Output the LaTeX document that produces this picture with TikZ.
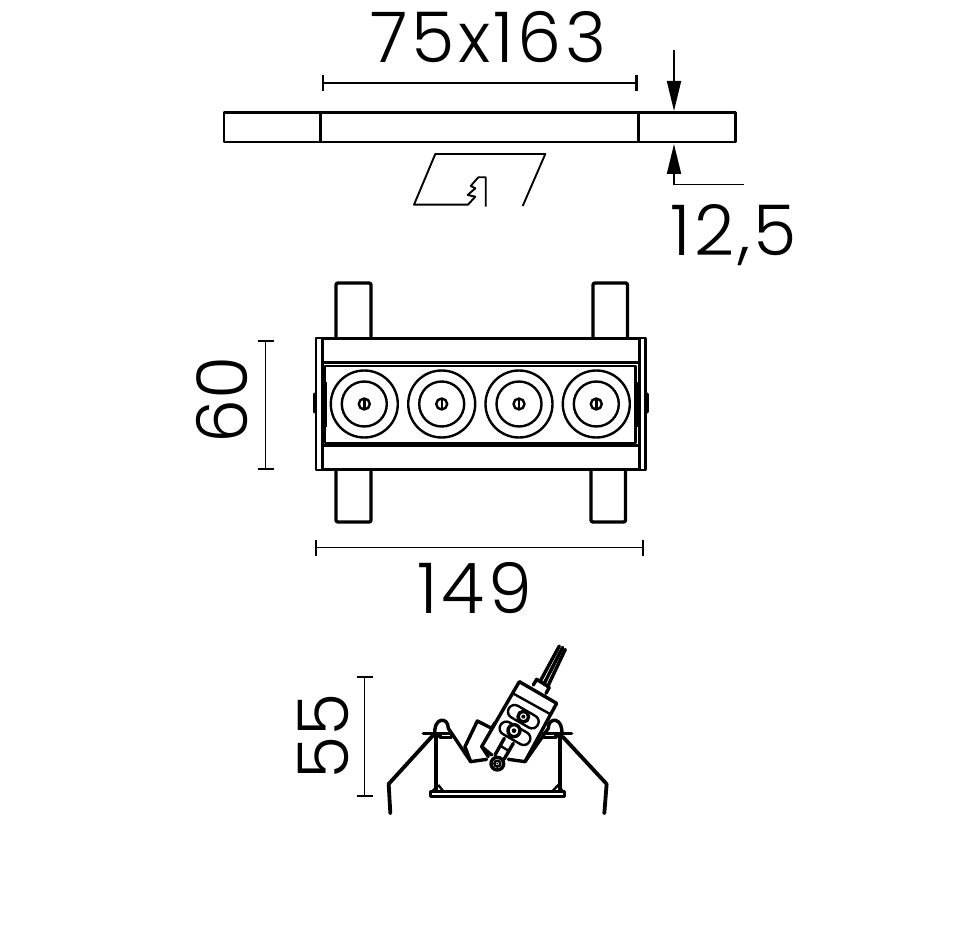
\documentclass[tikz,border=0pt]{standalone}
\usepackage{fontspec}
\setmainfont[LetterSpace=5]{Poppins Light}
\newfontfamily\tightfont{Poppins Light}
\usetikzlibrary{arrows.meta}
\newcommand{\dimarw}{{Bar[width=16pt,line width=2.4pt]}-{Bar[width=16pt,line width=2.4pt]}}
\newcommand{\arw}{-{Triangle[length=30pt,width=14pt]}}
\tikzset{
  dimtext/.style={inner sep=0pt,font=\fontsize{70}{70}\selectfont},
  sidetext/.style={inner sep=0pt,rotate=90,font=\tightfont\fontsize{70}{70}\selectfont},
  dimline/.style={line width=1.9pt},
  part/.style={line width=2.4pt,line join=round},
  heavy/.style={line width=3.4pt,line join=round,line cap=round},
}
\begin{document}
\begin{tikzpicture}[x=1pt,y=-1pt]
\useasboundingbox (0,0) rectangle (961,949);
%top view, ceiling cut
\draw[part] (224,112.5) rectangle (735.5,142);
\draw[part] (320.5,112.5) -- (320.5,142);
\draw[part] (638.5,112.5) -- (638.5,142);
\draw[part,line width=1.9pt] (485.7,206.7) -- (485.7,177.3) -- (478.3,177.3) -- (470.7,186) -- (475.3,188.3)
  -- (467.7,195) -- (475.3,196.7) -- (468,204.7) -- (414,204.7) -- (435.3,154) -- (545.3,154) -- (522.7,206);
\coordinate (cutL) at (321.5,83);
\coordinate (cutR) at (637.5,83);
\draw[dimline,\dimarw] (cutL) -- (cutR);
\node[dimtext] (cutText) at (488.5,37) {75x163};
\coordinate (thickTopA) at (674,50);
\coordinate (thickTopB) at (674,111);
\coordinate (thickLowA) at (744,184.5);
\coordinate (thickLowB) at (674,144);
\draw[dimline,\arw] (thickTopA) -- (thickTopB);
\draw[dimline,\arw] (thickLowA) -| (thickLowB);
\node[dimtext] (thickText) at (734,235) {12,5};
%front view
\foreach \xa/\xb/\ya/\yb in {336/371/338/283, 593/627.5/338/283, 336/371/470/522, 591/625.5/470/522}
  \draw[heavy,rounded corners=2pt] (\xa,\ya) -- (\xa,\yb) -- (\xb,\yb) -- (\xb,\ya);
\draw[part] (316,338) rectangle (645.5,470);
\draw[heavy] (322,338.5) -- (639,338.5);
\draw[heavy] (322,469.5) -- (639,469.5);
\draw[line width=3pt] (322,338) -- (322,470);
\draw[line width=3pt] (639,338) -- (639,470);
\draw[part] (322,362.5) -- (639,362.5);
\draw[part] (325,366) rectangle (635.5,443);
\draw[part] (322,445.5) -- (639,445.5);
\draw[line width=5pt] (324,382) -- (324,427);
\draw[line width=5pt] (637,382) -- (637,427);
\draw[line width=3pt,line cap=round] (314.5,394) -- (314.5,412);
\draw[line width=3pt,line cap=round] (647,394) -- (647,412);
\foreach \cx in {364.3,441.7,519,596.3} {
  \draw[part] (\cx,404) circle (33.5);
  \draw[part] (\cx,404) circle (22.5);
  \draw[part] (\cx,404) circle (5.5);
  \draw[part] (\cx,398.5) -- (\cx,409.5);
}
\coordinate (heightT) at (265.5,340);
\coordinate (heightB) at (265.5,470);
\draw[dimline,\dimarw] (heightT) -- (heightB);
\node[sidetext] (heightText) at (222,400) {60};
\coordinate (widthL) at (314.5,547.5);
\coordinate (widthR) at (644,547.5);
\draw[dimline,\dimarw] (widthL) -- (widthR);
\node[dimtext] (widthText) at (475,588) {149};
%side view
\coordinate (depthT) at (364.5,676);
\coordinate (depthB) at (364.5,797);
\draw[dimline,\dimarw] (depthT) -- (depthB);
\node[sidetext] (depthText) at (323,736) {55};
\begin{scope}[shift={(380,640)},x=.3333pt,y=-.3333pt]
%springs
\draw[heavy,line width=3.8pt] (31,520) -- (26,432) -- (160,285);
\draw[heavy,line width=3.8pt] (673,520) -- (680,432) -- (548,290);
\draw[heavy] (130,280) -- (190,280);
\draw[heavy] (515,280) -- (575,280);
%housing
\draw[heavy] (168,285) -- (168,452);
\draw[heavy] (540,285) -- (540,452);
\draw[part] (152,454) rectangle (553,470);
\draw[part] (175,435) -- (157,454) (175,435) -- (190,454);
\draw[part] (535,435) -- (517,454) (535,435) -- (548,454);
%hooks
\draw[heavy] (165,285) .. controls (158,232) and (205,228) .. (205,265) -- (272,365) -- (320,358);
\draw[heavy] (545,285) .. controls (552,232) and (505,228) .. (505,265) -- (435,365) -- (385,358);
\draw[heavy] (180,280) rectangle (215,292);
\draw[heavy] (490,280) rectangle (528,292);
%driver
\draw[heavy] (335,345) -- (305,320) -- (418,125) -- (530,190) -- (435,365);
\draw[part] (395,158) -- (510,222);
\draw[heavy] (272,365) -- (255,320) -- (292,243) -- (335,265) -- (345,248);
\draw[heavy] (305,320) -- (325,350);
%cable
\draw[heavy] (460,135) -- (470,118) -- (508,142) -- (498,160);
\draw[heavy] (480,125) -- (538,18);
\draw[heavy] (492,132) -- (548,22);
\draw[heavy] (503,140) -- (556,28);
%clamp and screws
\draw[part,shift={(430,230)},rotate=-30,rounded corners=6.5pt] (-50,-20) rectangle (50,20);
\draw[part,shift={(405,280)},rotate=-30,rounded corners=6.5pt] (-50,-20) rectangle (50,20);
\draw[heavy,fill=white] (430,230) circle (16);
\draw[heavy,fill=white] (402,272) circle (18);
\fill (430,230) circle (6);
\fill (402,272) circle (7);
\draw[heavy] (373,295) -- (345,345);
\draw[heavy] (400,310) -- (372,358);
\draw[part] (362,318) -- (390,335);
%pulley
\draw[heavy,fill=white] (352,371) circle (19);
\draw[part] (352,371) circle (9);
\fill (352,371) circle (3);
\end{scope}
\end{tikzpicture}
\end{document}
